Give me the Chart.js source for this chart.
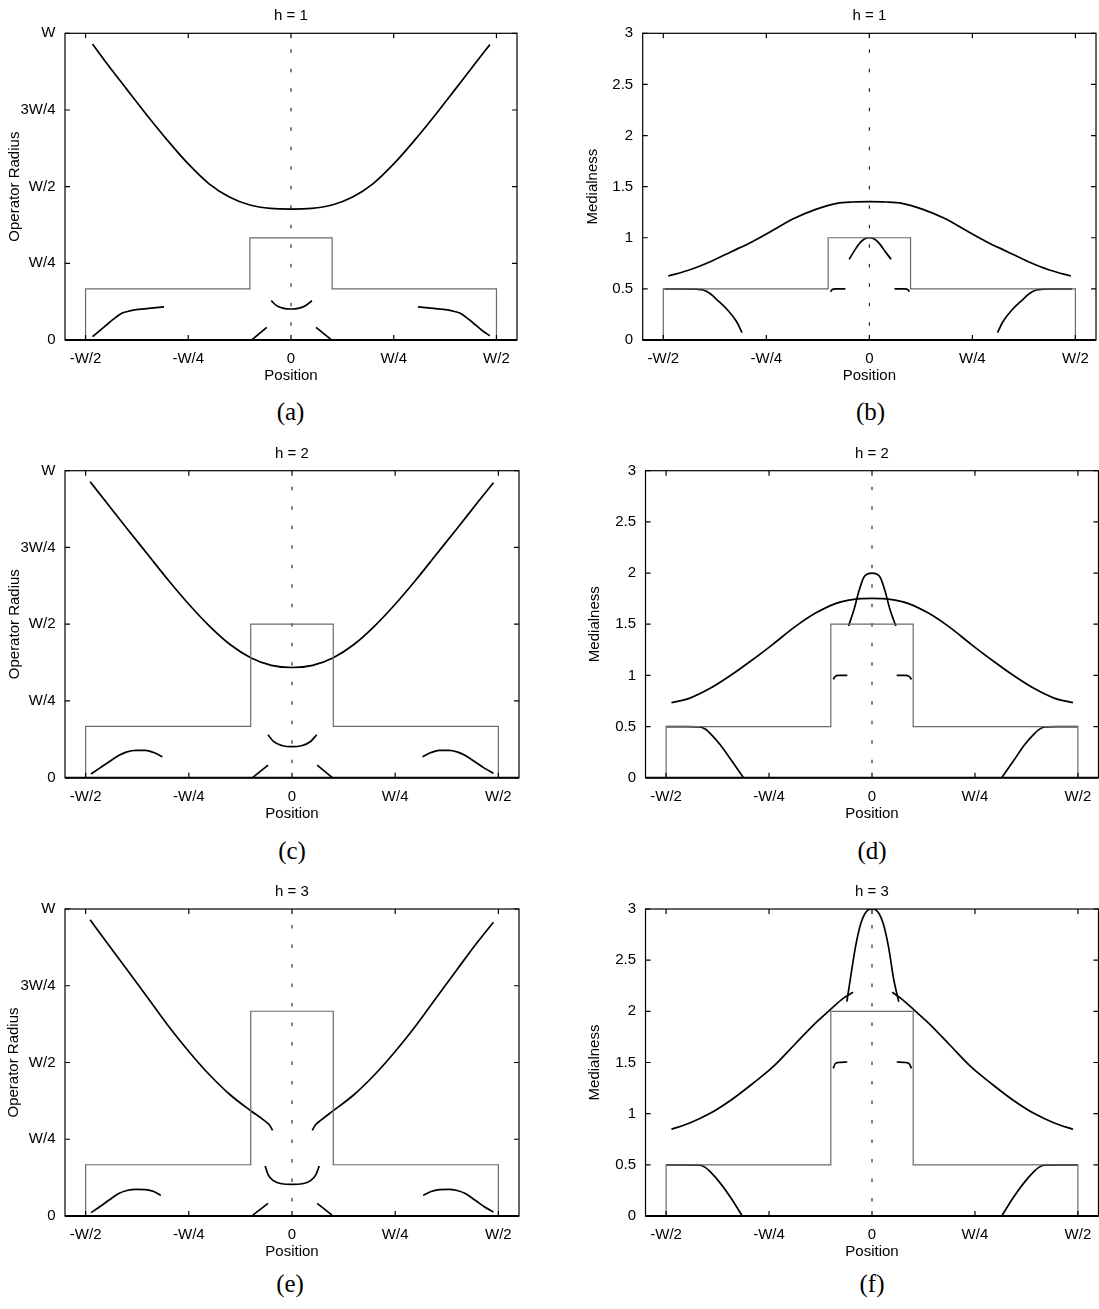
<!DOCTYPE html>
<html lang="en">
<head>
<meta charset="UTF-8">
<title>Operator radius and medialness profiles</title>
<script src="https://cdn.jsdelivr.net/npm/chart.js@4.4.0/dist/chart.umd.min.js"></script>
<style>
  html, body { margin: 0; padding: 0; background: #fff; overflow: hidden; }
  #figure { position: relative; width: 1099px; height: 1309px; overflow: hidden; }
  #figure canvas { position: absolute; }
  .caption {
    position: absolute;
    font-family: "Liberation Serif", "Times New Roman", serif;
    font-size: 25px;
    color: #000;
    transform: translate(-50%, -50%);
    white-space: nowrap;
  }
</style>
</head>
<body>
<div id="figure"></div>
<script>
// axis ticks
const positionTicks = [-0.5, -0.25, 0, 0.25, 0.5];
const positionLabels = ['-W/2', '-W/4', '0', 'W/4', 'W/2'];
const radiusTicks = [0, 0.25, 0.5, 0.75, 1];
const radiusLabels = ['0', 'W/4', 'W/2', '3W/4', 'W'];
const medialTicks = [0, 0.5, 1, 1.5, 2, 2.5, 3];
const medialLabels = ['0', '0.5', '1', '1.5', '2', '2.5', '3'];

// object profiles (step shapes), radius units and medialness units
const profileR1 = [[-0.5, 0], [-0.5, 0.167], [-0.1, 0.167], [-0.1, 0.333], [0.1, 0.333], [0.1, 0.167], [0.5, 0.167], [0.5, 0]];
const profileR2 = [[-0.5, 0], [-0.5, 0.167], [-0.1, 0.167], [-0.1, 0.5], [0.1, 0.5], [0.1, 0.167], [0.5, 0.167], [0.5, 0]];
const profileR3 = [[-0.5, 0], [-0.5, 0.167], [-0.1, 0.167], [-0.1, 0.667], [0.1, 0.667], [0.1, 0.167], [0.5, 0.167], [0.5, 0]];
const profileM1 = [[-0.5, 0], [-0.5, 0.5], [-0.1, 0.5], [-0.1, 1], [0.1, 1], [0.1, 0.5], [0.5, 0.5], [0.5, 0]];
const profileM2 = [[-0.5, 0], [-0.5, 0.5], [-0.1, 0.5], [-0.1, 1.5], [0.1, 1.5], [0.1, 0.5], [0.5, 0.5], [0.5, 0]];
const profileM3 = [[-0.5, 0], [-0.5, 0.5], [-0.1, 0.5], [-0.1, 2], [0.1, 2], [0.1, 0.5], [0.5, 0.5], [0.5, 0]];

// h = 1, operator radius
const radiusH1Main = [[-0.483, 0.965], [-0.45, 0.905], [-0.40, 0.818], [-0.35, 0.732], [-0.30, 0.650], [-0.25, 0.574], [-0.20, 0.510], [-0.15, 0.466], [-0.10, 0.440], [-0.05, 0.429], [0, 0.427],
  [0.05, 0.429], [0.10, 0.440], [0.15, 0.466], [0.20, 0.510], [0.25, 0.574], [0.30, 0.650], [0.35, 0.732], [0.40, 0.818], [0.45, 0.905], [0.484, 0.963]];
const radiusH1Left = [[-0.483, 0.011], [-0.466, 0.030], [-0.449, 0.049], [-0.432, 0.068], [-0.415, 0.085], [-0.398, 0.093], [-0.381, 0.098], [-0.347, 0.103], [-0.309, 0.108]];
const radiusH1Right = [[0.309, 0.108], [0.347, 0.103], [0.381, 0.098], [0.398, 0.093], [0.415, 0.085], [0.432, 0.068], [0.449, 0.049], [0.466, 0.030], [0.484, 0.014]];
const radiusH1Cup = [[-0.048, 0.128], [-0.035, 0.112], [-0.02, 0.104], [0, 0.101], [0.02, 0.104], [0.035, 0.112], [0.051, 0.128]];
const radiusH1DiagL = [[-0.094, 0.002], [-0.059, 0.041]];
const radiusH1DiagR = [[0.061, 0.041], [0.097, 0.002]];

// h = 2, operator radius
const radiusH2Main = [[-0.489, 0.964], [-0.45, 0.897], [-0.40, 0.812], [-0.35, 0.728], [-0.30, 0.644], [-0.25, 0.565], [-0.20, 0.494], [-0.15, 0.434], [-0.10, 0.391], [-0.05, 0.366], [0, 0.359],
  [0.05, 0.366], [0.10, 0.391], [0.15, 0.434], [0.20, 0.494], [0.25, 0.565], [0.30, 0.644], [0.35, 0.728], [0.40, 0.812], [0.45, 0.897], [0.488, 0.961]];
const radiusH2Left = [[-0.487, 0.012], [-0.465, 0.032], [-0.443, 0.052], [-0.42, 0.072], [-0.40, 0.084], [-0.378, 0.089], [-0.355, 0.089], [-0.335, 0.082], [-0.314, 0.068]];
const radiusH2Right = [[0.316, 0.068], [0.337, 0.082], [0.357, 0.089], [0.38, 0.089], [0.40, 0.084], [0.42, 0.072], [0.443, 0.052], [0.465, 0.032], [0.488, 0.014]];
const radiusH2Cup = [[-0.058, 0.14], [-0.045, 0.118], [-0.025, 0.105], [0, 0.101], [0.025, 0.105], [0.045, 0.118], [0.06, 0.14]];
const radiusH2DiagL = [[-0.095, 0.001], [-0.058, 0.041]];
const radiusH2DiagR = [[0.061, 0.041], [0.097, 0.001]];

// h = 3, operator radius
const radiusH3MainL = [[-0.489, 0.965], [-0.45, 0.893], [-0.40, 0.803], [-0.35, 0.712], [-0.30, 0.620], [-0.25, 0.536], [-0.20, 0.460], [-0.15, 0.395], [-0.10, 0.343], [-0.07, 0.314], [-0.055, 0.297], [-0.047, 0.279]];
const radiusH3MainR = [[0.049, 0.279], [0.057, 0.297], [0.072, 0.314], [0.10, 0.343], [0.15, 0.395], [0.20, 0.460], [0.25, 0.536], [0.30, 0.620], [0.35, 0.712], [0.40, 0.803], [0.45, 0.893], [0.488, 0.957]];
const radiusH3Left = [[-0.487, 0.011], [-0.465, 0.031], [-0.443, 0.052], [-0.42, 0.073], [-0.40, 0.083], [-0.378, 0.087], [-0.355, 0.086], [-0.335, 0.080], [-0.318, 0.067]];
const radiusH3Right = [[0.318, 0.067], [0.337, 0.080], [0.357, 0.086], [0.38, 0.087], [0.40, 0.083], [0.42, 0.073], [0.443, 0.052], [0.465, 0.031], [0.488, 0.013]];
const radiusH3Cup = [[-0.065, 0.163], [-0.058, 0.135], [-0.045, 0.115], [-0.025, 0.105], [0, 0.103], [0.025, 0.105], [0.045, 0.115], [0.058, 0.135], [0.066, 0.163]];
const radiusH3DiagL = [[-0.095, 0.003], [-0.058, 0.041]];
const radiusH3DiagR = [[0.061, 0.041], [0.097, 0.003]];

// h = 1, medialness
const medialH1Bell = [[-0.488, 0.626], [-0.437, 0.685], [-0.386, 0.766], [-0.335, 0.864], [-0.284, 0.962], [-0.233, 1.076], [-0.182, 1.19], [-0.130, 1.278], [-0.079, 1.337], [-0.04, 1.35], [0, 1.353],
  [0.04, 1.35], [0.079, 1.337], [0.130, 1.278], [0.182, 1.19], [0.233, 1.076], [0.284, 0.962], [0.335, 0.864], [0.386, 0.766], [0.437, 0.685], [0.489, 0.626]];
const medialH1Cap = [[-0.049, 0.789], [-0.038, 0.862], [-0.026, 0.935], [-0.013, 0.985], [0, 1.0], [0.013, 0.985], [0.026, 0.935], [0.039, 0.862], [0.053, 0.789]];
const medialH1HookL = [[-0.094, 0.473], [-0.09, 0.495], [-0.083, 0.5], [-0.058, 0.5]];
const medialH1HookR = [[0.061, 0.5], [0.086, 0.5], [0.093, 0.495], [0.097, 0.473]];
const medialH1OuterL = [[-0.497, 0.5], [-0.45, 0.5], [-0.42, 0.497], [-0.403, 0.489], [-0.385, 0.45], [-0.369, 0.391], [-0.344, 0.293], [-0.322, 0.179], [-0.309, 0.072]];
const medialH1OuterR = [[0.311, 0.072], [0.324, 0.179], [0.346, 0.293], [0.371, 0.391], [0.387, 0.45], [0.405, 0.489], [0.422, 0.497], [0.45, 0.5], [0.492, 0.5]];

// h = 2, medialness
const medialH2Bell = [[-0.487, 0.733], [-0.444, 0.775], [-0.393, 0.873], [-0.342, 1.003], [-0.291, 1.15], [-0.24, 1.306], [-0.189, 1.469], [-0.138, 1.606], [-0.087, 1.704], [-0.044, 1.743], [0, 1.752],
  [0.044, 1.743], [0.087, 1.704], [0.138, 1.606], [0.189, 1.469], [0.24, 1.306], [0.291, 1.15], [0.342, 1.003], [0.393, 0.873], [0.444, 0.775], [0.488, 0.733]];
const medialH2Peak = [[-0.057, 1.482], [-0.044, 1.638], [-0.031, 1.834], [-0.019, 1.964], [0, 2.0], [0.019, 1.964], [0.031, 1.834], [0.044, 1.638], [0.058, 1.482]];
const medialH2HookL = [[-0.094, 0.961], [-0.089, 0.99], [-0.082, 1.0], [-0.06, 1.0]];
const medialH2HookR = [[0.06, 1.0], [0.082, 1.0], [0.09, 0.99], [0.096, 0.961]];
const medialH2OuterL = [[-0.5, 0.5], [-0.45, 0.5], [-0.419, 0.497], [-0.405, 0.475], [-0.393, 0.433], [-0.368, 0.319], [-0.342, 0.173], [-0.312, 0]];
const medialH2OuterR = [[0.315, 0], [0.345, 0.173], [0.37, 0.319], [0.395, 0.433], [0.407, 0.475], [0.42, 0.497], [0.45, 0.5], [0.5, 0.5]];

// h = 3, medialness
const medialH3MainL = [[-0.487, 0.847], [-0.444, 0.906], [-0.393, 1.003], [-0.342, 1.134], [-0.291, 1.29], [-0.24, 1.459], [-0.189, 1.671], [-0.138, 1.883], [-0.104, 2.007], [-0.07, 2.127], [-0.046, 2.186]];
const medialH3MainR = [[0.049, 2.186], [0.07, 2.127], [0.104, 2.007], [0.138, 1.883], [0.189, 1.671], [0.24, 1.459], [0.291, 1.29], [0.342, 1.134], [0.393, 1.003], [0.444, 0.906], [0.488, 0.847]];
const medialH3Peak = [[-0.061, 2.094], [-0.053, 2.306], [-0.04, 2.632], [-0.027, 2.86], [-0.014, 2.974], [0, 3.0], [0.014, 2.974], [0.027, 2.86], [0.04, 2.632], [0.053, 2.306], [0.065, 2.094]];
const medialH3HookL = [[-0.094, 1.443], [-0.089, 1.49], [-0.082, 1.5], [-0.06, 1.505]];
const medialH3HookR = [[0.06, 1.505], [0.082, 1.5], [0.09, 1.49], [0.096, 1.443]];
const medialH3OuterL = [[-0.5, 0.5], [-0.45, 0.5], [-0.419, 0.497], [-0.405, 0.475], [-0.393, 0.433], [-0.368, 0.319], [-0.342, 0.173], [-0.315, 0]];
const medialH3OuterR = [[0.315, 0], [0.342, 0.173], [0.368, 0.319], [0.393, 0.433], [0.405, 0.475], [0.419, 0.497], [0.45, 0.5], [0.5, 0.5]];

const panels = [
  { caption: '(a)', title: 'h = 1', yTitle: 'Operator Radius', yMax: 1, yTicks: radiusTicks, yLabels: radiusLabels,
    profile: profileR1, curves: [radiusH1Main, radiusH1Left, radiusH1Right, radiusH1Cup, radiusH1DiagL, radiusH1DiagR],
    left: 0, plotLeft: 65, plotRight: 517, plotTop: 33.3, plotBottom: 340, yTitleX: 14.7, captionX: 290.5, captionY: 412 },
  { caption: '(b)', title: 'h = 1', yTitle: 'Medialness', yMax: 3, yTicks: medialTicks, yLabels: medialLabels,
    profile: profileM1, curves: [medialH1Bell, medialH1Cap, medialH1HookL, medialH1HookR, medialH1OuterL, medialH1OuterR],
    left: 549, plotLeft: 642.7, plotRight: 1096, plotTop: 33.3, plotBottom: 340, yTitleX: 592.8, captionX: 870.5, captionY: 412 },
  { caption: '(c)', title: 'h = 2', yTitle: 'Operator Radius', yMax: 1, yTicks: radiusTicks, yLabels: radiusLabels,
    profile: profileR2, curves: [radiusH2Main, radiusH2Left, radiusH2Right, radiusH2Cup, radiusH2DiagL, radiusH2DiagR],
    left: 0, plotLeft: 65, plotRight: 519, plotTop: 470.7, plotBottom: 777.7, yTitleX: 14.5, captionX: 292, captionY: 851 },
  { caption: '(d)', title: 'h = 2', yTitle: 'Medialness', yMax: 3, yTicks: medialTicks, yLabels: medialLabels,
    profile: profileM2, curves: [medialH2Bell, medialH2Peak, medialH2HookL, medialH2HookR, medialH2OuterL, medialH2OuterR],
    left: 549, plotLeft: 645.5, plotRight: 1098.5, plotTop: 470.7, plotBottom: 777.7, yTitleX: 594.6, captionX: 872, captionY: 851 },
  { caption: '(e)', title: 'h = 3', yTitle: 'Operator Radius', yMax: 1, yTicks: radiusTicks, yLabels: radiusLabels,
    profile: profileR3, curves: [radiusH3MainL, radiusH3MainR, radiusH3Left, radiusH3Right, radiusH3Cup, radiusH3DiagL, radiusH3DiagR],
    left: 0, plotLeft: 65, plotRight: 519, plotTop: 909, plotBottom: 1216, yTitleX: 14, captionX: 290, captionY: 1284 },
  { caption: '(f)', title: 'h = 3', yTitle: 'Medialness', yMax: 3, yTicks: medialTicks, yLabels: medialLabels,
    profile: profileM3, curves: [medialH3MainL, medialH3MainR, medialH3Peak, medialH3HookL, medialH3HookR, medialH3OuterL, medialH3OuterR],
    left: 549, plotLeft: 645.5, plotRight: 1098.5, plotTop: 909, plotBottom: 1216, yTitleX: 594.6, captionX: 872, captionY: 1284 }
];

Chart.defaults.font.family = '"Liberation Sans", Arial, sans-serif';
Chart.defaults.font.size = 15;
Chart.defaults.color = '#000';

const toPoints = pairs => pairs.map(p => ({ x: p[0], y: p[1] }));

// gnuplot-style box with inward tick marks on all four sides
const framePlugin = {
  id: 'frame',
  afterDraw(chart) {
    const { ctx, chartArea: { left, right, top, bottom }, scales: { x, y } } = chart;
    ctx.save();
    ctx.strokeStyle = '#000';
    ctx.lineWidth = 1.2;
    ctx.strokeRect(left, top, right - left, bottom - top);
    ctx.lineWidth = 2;
    ctx.beginPath();
    ctx.moveTo(left, bottom);
    ctx.lineTo(right, bottom);
    ctx.stroke();
    ctx.lineWidth = 1.2;
    ctx.beginPath();
    x.ticks.forEach(t => {
      const px = x.getPixelForValue(t.value);
      ctx.moveTo(px, bottom); ctx.lineTo(px, bottom - 5);
      ctx.moveTo(px, top); ctx.lineTo(px, top + 5);
    });
    y.ticks.forEach(t => {
      const py = y.getPixelForValue(t.value);
      ctx.moveTo(left, py); ctx.lineTo(left + 5, py);
      ctx.moveTo(right, py); ctx.lineTo(right - 5, py);
    });
    ctx.stroke();
    ctx.restore();
  }
};

const figure = document.getElementById('figure');

panels.forEach(p => {
  const canvasTop = Math.floor(p.plotTop - 33);
  const canvasHeight = Math.ceil(p.plotBottom + 48 - canvasTop);
  const canvasWidth = Math.ceil(p.plotRight + 6 - p.left);
  const topH = p.plotTop - canvasTop;
  const bottomH = canvasTop + canvasHeight - p.plotBottom;
  const leftW = p.plotLeft - p.left;
  const rightW = p.left + canvasWidth - p.plotRight;

  const canvas = document.createElement('canvas');
  canvas.width = canvasWidth;
  canvas.height = canvasHeight;
  canvas.style.left = p.left + 'px';
  canvas.style.top = canvasTop + 'px';
  figure.appendChild(canvas);

  const datasets = [];
  datasets.push({ data: toPoints(p.profile), borderColor: '#6a6a6a', borderWidth: 1.2, tension: 0 });
  p.curves.forEach(c => {
    datasets.push({ data: toPoints(c), borderColor: '#000', borderWidth: 1.7, cubicInterpolationMode: 'monotone' });
  });
  // centre line x = 0
  datasets.push({ data: [{ x: 0, y: p.yMax }, { x: 0, y: 0 }], borderColor: '#000', borderWidth: 1,
    borderDash: [3.5, 16], borderDashOffset: 3.5 });

  new Chart(canvas, {
    type: 'line',
    data: { datasets: datasets },
    options: {
      responsive: false,
      animation: false,
      events: [],
      layout: { padding: 0, autoPadding: false },
      elements: { point: { radius: 0 } },
      plugins: { legend: { display: false }, tooltip: { enabled: false }, title: { display: false } },
      scales: {
        x: {
          type: 'linear', position: 'bottom', min: -0.55, max: 0.55,
          afterBuildTicks: s => { s.ticks = positionTicks.map(v => ({ value: v })); },
          afterFit: s => { s.height = bottomH; },
          grid: { display: false, drawTicks: false },
          border: { display: false },
          ticks: { padding: 9.7, maxRotation: 0, autoSkip: false, callback: (v, i) => positionLabels[i] },
          title: { display: true, text: 'Position', padding: { top: 0, bottom: bottomH - 45.3 } }
        },
        x2: {
          type: 'linear', position: 'top', min: -0.55, max: 0.55,
          afterFit: s => { s.height = topH; },
          grid: { display: false, drawTicks: false },
          border: { display: false },
          ticks: { display: false },
          title: { display: true, text: p.title, padding: { top: topH - 26.2, bottom: 0 } }
        },
        y: {
          type: 'linear', position: 'left', min: 0, max: p.yMax,
          afterBuildTicks: s => { s.ticks = p.yTicks.map(v => ({ value: v })); },
          afterFit: s => { s.width = leftW; },
          grid: { display: false, drawTicks: false },
          border: { display: false },
          ticks: { padding: 9.5, autoSkip: false, callback: (v, i) => p.yLabels[i] },
          title: { display: true, text: p.yTitle, padding: { top: p.yTitleX - p.left - 9, bottom: 0 } }
        },
        y2: {
          type: 'linear', position: 'right', min: 0, max: p.yMax,
          afterFit: s => { s.width = rightW; },
          grid: { display: false, drawTicks: false },
          border: { display: false },
          ticks: { display: false }
        }
      }
    },
    plugins: [framePlugin]
  });

  const cap = document.createElement('div');
  cap.className = 'caption';
  cap.textContent = p.caption;
  cap.style.left = p.captionX + 'px';
  cap.style.top = p.captionY + 'px';
  figure.appendChild(cap);
});
</script>
</body>
</html>
